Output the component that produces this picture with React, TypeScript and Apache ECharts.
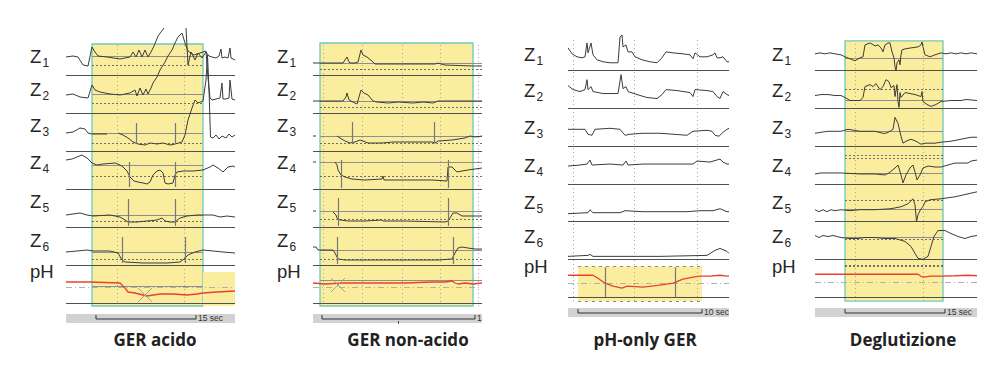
import React, { useEffect, useRef } from "react";
import * as echarts from "echarts";

type P = [number, number | null];

const CHANNELS = ["Z1", "Z2", "Z3", "Z4", "Z5", "Z6", "pH"];
const TITLES = ["GER acido", "GER non-acido", "pH-only GER", "Deglutizione"];
const SCALE_LABELS = ["15 sec", "1", "10 sec", "15 sec"];
const STEP = 38; // channel spacing (units)

// ---------- GER acido (samples vs impedance units above channel baseline) ----------
const acZ1: P[] = [[0,18],[7,19],[12,18],[17,10],[22,9],[26,28],[29,23],[32,19],[41,18],[54,16],[64,18],[67,23],[70,18],[73,25],[76,18],[79,25],[82,18],[85,23],[88,29],[92,39],[95,43],[98,47],[110,null],[120,47],[122,10],[125,23],[129,15],[132,22],[136,17],[140,23],[143,19],[146,18],[150,17],[153,19],[155,26],[156,17],[159,18],[162,17],[164,27],[165,17],[169,15]];
const acZ2: P[] = [[0,18],[7,19],[14,16],[22,15],[26,28],[29,23],[34,21],[44,19],[54,18],[64,20],[69,23],[71,17],[74,25],[77,18],[80,24],[82,19],[85,25],[87,30],[91,36],[94,43],[99,51],[102,57],[106,63],[109,70],[112,76],[116,80],[119,70],[122,62],[128,58],[134,60],[140,62],[142,35],[144,15],[146,13],[150,14],[154,15],[156,30],[157,14],[160,14],[163,15],[164,33],[166,14],[169,13]];
const acZ3: P[] = [[0,18],[7,19],[14,23],[19,22],[22,18],[26,17],[41,17],[46,null],[52,18],[57,16],[62,13],[67,9],[72,7],[79,6],[84,8],[91,7],[97,8],[104,6],[109,7],[116,9],[119,16],[122,31],[126,43],[129,51],[132,48],[137,50],[140,71],[141.5,96],[143,61],[144.5,14],[147,13],[150,16],[153,12],[156,15],[160,13],[163,17],[166,14],[169,16]];
const acZ4: P[] = [[0,29],[6,30],[11,32],[16,34],[21,31],[26,26],[31,24],[37,25],[49,26],[54,24],[57,22],[61,18],[64,12],[68,8],[72,7],[77,6],[81,5],[84,7],[87,14],[91,18],[94,19],[97,16],[99,6],[102,5],[107,6],[109,14],[111,17],[117,18],[127,18],[137,19],[144,22],[147,24],[152,21],[157,17],[162,22],[167,23],[169,22]];
const acZ5: P[] = [[0,12],[14,14],[21,12],[27,11],[44,12],[54,10],[59,7],[62,5],[71,5],[81,6],[91,7],[96,9],[99,6],[104,5],[109,5],[114,9],[121,11],[131,12],[147,12],[154,10],[161,11],[169,10]];
const acZ6: P[] = [[0,13],[11,14],[21,15],[27,14],[44,14],[52,12],[56,5],[59,3],[77,2],[101,2],[114,3],[118,6],[122,10],[129,13],[137,15],[147,14],[157,13],[169,12]];
const acPH: P[] = [[0,21],[24,21],[54,20],[56,18],[59,15],[62,11],[69,10],[81,7],[94,9],[107,9],[121,8],[131,9],[137,10],[151,11],[169,12]];
const acBox = [26, 137, -3, 259];
const acPhArea = [137, 169, -3, 31];
const acRefSolid = [19, 19, 18, 24, 12, 13, 17];
const acRefDashed = [10, 10, 8, 13, 6, 6, null];
const acRefSpan = [26, 137];
const acGridX = [51, 118];
const acBolus = [[2,70,28,7],[2,109,28,7],[3,63,27,2],[3,109,27,2],[4,62,28,1],[4,109,28,1],[5,56,28,2],[5,119,28,2]];
const acCross = [79, 8];
const acPh4 = 16;
const acScale = [30, 130];

// ---------- GER non-acido ----------
const naZ1: P[] = [[0,12],[10,12],[30,12],[32,15],[34,18],[36,13],[37,12],[42,12],[45,13],[48,25],[50,20],[54,18],[59,14],[62,11],[72,11],[100,11],[122,11],[125,12],[128,11],[132,10],[160,9],[169,9]];
const naZ2: P[] = [[0,12],[10,12],[30,12],[33,16],[34,20],[36,13],[40,11],[44,9],[46,16],[48,23],[51,20],[55,18],[60,12],[64,11],[75,10],[85,11],[100,10],[110,11],[120,10],[125,12],[132,12],[150,12],[169,12]];
const naZ3: P[] = [[0,15],[3,15],[10,null],[24,15],[27,13],[32,10],[37,8],[42,9],[47,11],[50,10],[55,8],[69,8],[80,9],[92,9],[110,9],[119,9],[122,8],[125,10],[139,11],[152,13],[157,15],[162,14],[169,15]];
const naZ4: P[] = [[0,27],[3,27],[10,null],[22,27],[24,24],[25,19],[28,14],[32,12],[39,10],[52,9],[69,10],[70,13],[71,9],[92,9],[119,9],[134,8],[135,22],[139,22],[144,17],[149,18],[155,19],[162,20],[169,21]];
const naZ5: P[] = [[0,16],[3,16],[10,null],[20,15],[23,12],[24,9],[27,7],[35,6],[52,6],[69,7],[70,6],[92,6],[132,5],[135,6],[137,9],[140,14],[144,14],[149,11],[159,11],[169,11]];
const naZ6: P[] = [[0,18],[3,18],[5,15],[20,15],[22,12],[24,8],[25,6],[32,5],[59,5],[92,5],[125,5],[139,6],[142,12],[145,17],[149,18],[155,17],[162,16],[169,16]];
const naPH: P[] = [[0,20],[12,19],[30,20],[59,20],[92,20],[119,21],[132,21],[139,22],[142,20],[145,19],[152,20],[160,19],[169,20]];
const naBox = [7, 160, -3, 260];
const naRefSolid = [12, 12, 15, 27, 16, 15, 23];
const naRefDashed = [6, 6, 8, 13, 8, 6, null];
const naRefSpan = [7, 169];
const naGridX = [10, 49, 89, 127, 165];
const naBolus = [[2,39,29,8],[2,121,29,8],[3,28,29,1],[3,135,29,1],[4,25,29,1],[4,135,29,1],[5,24,28,1],[5,140,28,1]];
const naCross = [25, 18];
const naPh4 = 16;
const naScale = [9, 162];

// ---------- pH-only GER ----------
const poZ1: P[] = [[0,23],[4,17],[9,14],[14,13],[17,14],[19,28],[20,18],[23,28],[25,16],[29,11],[35,9],[42,8],[50,8],[52,34],[54,36],[55,24],[58,26],[60,19],[64,19],[67,14],[74,11],[82,9],[89,8],[94,13],[98,19],[105,18],[115,17],[122,16],[125,12],[127,18],[132,14],[139,14],[145,16],[147,18],[149,13],[152,13],[155,14],[159,9],[161,9]];
const poZ2: P[] = [[0,23],[5,19],[12,17],[17,19],[19,29],[20,19],[23,22],[25,17],[35,15],[50,15],[53,34],[55,20],[58,22],[60,17],[69,14],[79,11],[89,10],[94,14],[98,19],[109,18],[122,16],[125,12],[127,19],[139,18],[145,17],[149,12],[152,10],[155,17],[159,14],[161,13]];
const poZ3: P[] = [[0,17],[17,17],[20,12],[24,11],[27,17],[42,18],[52,17],[57,11],[62,12],[75,13],[92,13],[119,11],[125,15],[139,16],[144,15],[147,11],[151,10],[155,14],[159,17],[161,18]];
const poZ4: P[] = [[0,18],[12,19],[19,20],[22,24],[24,19],[42,20],[55,19],[58,23],[60,19],[75,20],[92,20],[125,20],[129,23],[142,22],[152,25],[155,22],[159,20],[161,20]];
const poZ5: P[] = [[0,8],[20,9],[22,12],[25,9],[52,9],[57,11],[75,10],[119,10],[132,11],[145,11],[152,13],[159,10],[161,10]];
const poZ6: P[] = [[0,3],[20,4],[22,5],[25,3],[59,3],[92,3],[139,4],[147,9],[152,11],[159,8],[161,6]];
const poPH: P[] = [[0,22],[25,22],[30,19],[37,14],[45,11],[54,9],[59,11],[75,10],[92,12],[105,14],[115,18],[125,20],[132,21],[142,21],[152,22],[159,21],[161,21]];
const poPhArea = [10, 134, -4, 31];
const poGridX = [5, 66, 129];
const poBolus = [[6,37,30,0],[6,107,30,0]];
const poPh4 = 14;
const poScale = [10, 134];

// ---------- Deglutizione ----------
const dgZ1: P[] = [[0,17],[5,18],[10,17],[15,18],[20,17],[26,16],[30,14],[35,12],[40,10],[45,13],[48,14],[50,26],[55,28],[60,25],[63,26],[66,23],[68,19],[70,26],[73,28],[75,28],[77,19],[79,13],[80,4],[81,0],[82,8],[84,11],[85,6],[86,16],[87,21],[90,22],[96,23],[103,24],[106,26],[107,29],[108,24],[110,16],[115,14],[120,16],[126,18],[131,17],[136,18],[141,17],[146,18],[151,17],[156,18],[162,17]];
const dgZ2: P[] = [[0,13],[6,14],[13,14],[20,13],[26,13],[30,11],[35,8],[45,8],[48,11],[50,22],[55,24],[58,22],[61,25],[65,19],[68,22],[71,29],[74,27],[76,21],[79,23],[80,12],[82,24],[83,7],[84,1],[85,16],[86,11],[90,16],[100,14],[106,12],[107,17],[108,7],[112,4],[116,2],[121,4],[126,7],[136,8],[146,8],[151,9],[162,8]];
const dgZ3: P[] = [[0,13],[6,14],[13,15],[26,15],[33,17],[45,15],[60,15],[68,13],[71,13],[75,15],[78,17],[80,29],[83,23],[86,10],[88,3],[91,5],[96,7],[101,5],[106,2],[110,3],[120,3],[126,4],[136,5],[146,7],[156,9],[162,9]];
const dgZ4: P[] = [[0,10],[6,11],[13,11],[26,11],[45,10],[60,10],[70,9],[74,11],[80,16],[83,19],[86,9],[88,1],[91,9],[95,16],[98,19],[100,12],[102,4],[105,9],[108,16],[113,18],[120,17],[126,17],[133,19],[140,21],[146,21],[153,21],[156,23],[162,24]];
const dgZ5: P[] = [[0,12],[4,10],[8,12],[12,10],[16,12],[20,11],[26,12],[35,11],[45,12],[60,12],[76,13],[86,15],[93,18],[98,23],[100,17],[101.5,0],[103,7],[106,13],[108,15],[110,20],[115,22],[126,23],[140,25],[153,28],[162,30]];
const dgZ6: P[] = [[0,24],[4,22],[8,24],[13,23],[18,24],[26,22],[35,21],[43,21],[50,22],[60,22],[70,21],[80,21],[87,19],[90,18],[96,13],[100,6],[103,1],[108,0],[113,3],[116,13],[119,23],[123,29],[130,29],[136,26],[143,23],[150,21],[156,23],[162,24]];
const dgPH: P[] = [[0,23],[50,23],[103,23],[106,21],[108,20],[116,21],[126,21],[140,21.5],[153,22],[162,21.5]];
const dgBox = [30, 128, -4, 258];
const dgRefSolid = [13, 8, 15, 11, 12, 22, null];
const dgRefDashed = [null, 19, null, 29, 22, 20, 32];
const dgRefDashed2 = [null, null, null, 26, null, null, 31];
const dgRefSpan = [30, 128];
const dgGridX = [40, 108];
const dgPh4 = 15;
const dgScale = [30, 130];

// ---------- assembled panels ----------
const PANELS: any[] = [
  { traces: [acZ1, acZ2, acZ3, acZ4, acZ5, acZ6, acPH], span: 169, box: acBox, phArea: acPhArea, refSolid: acRefSolid, refDashed: acRefDashed, refDashed2: null, refSpan: acRefSpan, gridX: acGridX, bolus: acBolus, cross: acCross, ph4: acPh4, scale: acScale, areaDashed: false },
  { traces: [naZ1, naZ2, naZ3, naZ4, naZ5, naZ6, naPH], span: 169, box: naBox, phArea: null, refSolid: naRefSolid, refDashed: naRefDashed, refDashed2: null, refSpan: naRefSpan, gridX: naGridX, bolus: naBolus, cross: naCross, ph4: naPh4, scale: naScale, areaDashed: false },
  { traces: [poZ1, poZ2, poZ3, poZ4, poZ5, poZ6, poPH], span: 161, box: null, phArea: poPhArea, refSolid: null, refDashed: null, refDashed2: null, refSpan: null, gridX: poGridX, bolus: poBolus, cross: null, ph4: poPh4, scale: poScale, areaDashed: true },
  { traces: [dgZ1, dgZ2, dgZ3, dgZ4, dgZ5, dgZ6, dgPH], span: 162, box: dgBox, phArea: null, refSolid: dgRefSolid, refDashed: dgRefDashed, refDashed2: dgRefDashed2, refSpan: dgRefSpan, gridX: dgGridX, bolus: [], cross: null, ph4: dgPh4, scale: dgScale, areaDashed: false },
];

// ---------- layout / styles ----------
const LABEL_Y_A = [56, 89, 125, 162, 201, 240, 271];
const LABEL_Y_B = [54, 90, 127, 165, 202, 236, 266];
const LAYOUT = [
  { left: 66, top: 37, height: 276, labelX: 30, labelY: LABEL_Y_A, titleX: 155, barY: 314, lineY: 319 },
  { left: 313, top: 37, height: 276, labelX: 277, labelY: LABEL_Y_A, titleX: 408, barY: 314, lineY: 319 },
  { left: 568, top: 33, height: 274, labelX: 524, labelY: LABEL_Y_B, titleX: 645, barY: 308, lineY: 313 },
  { left: 815, top: 33, height: 274, labelX: 772, labelY: LABEL_Y_B, titleX: 903, barY: 308, lineY: 313 },
];
const YELLOW = "#faee9e";
const TEAL = "#6cc9bf";
const TRACE = "#3c3c3c";
const RED = "#e8412c";
const LABEL_FONT = "Liberation Sans";

function buildOption() {
  const grid: any[] = [];
  const xAxis: any[] = [];
  const yAxis: any[] = [];
  const series: any[] = [];
  const graphic: any[] = [];

  PANELS.forEach((p, pi) => {
    const L = LAYOUT[pi];
    grid.push({ left: L.left, top: L.top, width: p.span, height: L.height, containLabel: false });
    xAxis.push({ type: "value", gridIndex: pi, min: 0, max: p.span, show: false });
    yAxis.push({ type: "value", gridIndex: pi, min: -10, max: 266, show: false });
    const ax = { xAxisIndex: pi, yAxisIndex: pi };
    const off = (ch: number) => (6 - ch) * STEP;
    const seg = (x0: number, y0: number, x1: number, y1: number, style: any) => [
      { coord: [x0, y0], lineStyle: style },
      { coord: [x1, y1] },
    ];

    // yellow areas
    const areas: any[] = [];
    if (p.box) areas.push([{ coord: [p.box[0], p.box[2]], itemStyle: { color: YELLOW, borderColor: TEAL, borderWidth: 1.3 } }, { coord: [p.box[1], p.box[3]] }]);
    if (p.phArea) areas.push([{ coord: [p.phArea[0], p.phArea[2]], itemStyle: { color: YELLOW, borderWidth: 0 } }, { coord: [p.phArea[1], p.phArea[3]] }]);
    series.push({ type: "line", ...ax, data: [], silent: true, markArea: { silent: true, data: areas } });

    // grid / reference lines
    const lines: any[] = [];
    const vTop = p.box ? p.box[3] : 262;
    const vBot = p.box ? p.box[2] : -4;
    p.gridX.forEach((x: number) => lines.push(seg(x, vBot, x, vTop, { color: "#a5a5a5", width: 1, type: [1, 3] })));
    for (let ch = 0; ch < 7; ch++) {
      if (p.refSolid && p.refSolid[ch] != null)
        lines.push(seg(p.refSpan[0], p.refSolid[ch] + off(ch), p.refSpan[1], p.refSolid[ch] + off(ch), { color: "#8e8e8e", width: 1, type: "solid" }));
      if (p.refDashed && p.refDashed[ch] != null)
        lines.push(seg(p.refSpan[0], p.refDashed[ch] + off(ch), p.refSpan[1], p.refDashed[ch] + off(ch), { color: "#6e6e6e", width: 1, type: [2, 2] }));
      if (p.refDashed2 && p.refDashed2[ch] != null)
        lines.push(seg(p.refSpan[0], p.refDashed2[ch] + off(ch), p.refSpan[1], p.refDashed2[ch] + off(ch), { color: "#6e6e6e", width: 1, type: [2, 2] }));
    }
    lines.push(seg(0, p.ph4, p.span, p.ph4, { color: "#b0b0b0", width: 1, type: [6, 3, 1, 3] }));
    if (p.areaDashed && p.phArea) {
      lines.push(seg(p.phArea[0], p.phArea[3], p.phArea[1], p.phArea[3], { color: "#8a8a8a", width: 1, type: [3, 4] }));
      lines.push(seg(p.phArea[0], p.phArea[2], p.phArea[1], p.phArea[2], { color: "#8a8a8a", width: 1, type: [3, 4] }));
    }
    for (let ch = 0; ch < 7; ch++) lines.push(seg(0, off(ch), p.span, off(ch), { color: "#505050", width: 1.2, type: "solid" }));
    series.push({ type: "line", ...ax, data: [], silent: true, markLine: { silent: true, symbol: ["none", "none"], label: { show: false }, emphasis: { disabled: true }, data: lines } });

    // traces
    p.traces.forEach((pts: P[], ch: number) => {
      series.push({
        type: "line", ...ax, z: 6, silent: true, clip: false, showSymbol: false, symbol: "none",
        connectNulls: false,
        lineStyle: { color: ch === 6 ? RED : TRACE, width: ch === 6 ? 1.3 : 1 },
        data: pts.map(([x, v]) => [x, v == null ? "-" : v + off(ch)]),
      });
    });

    // bolus markers and cross
    const marks: any[] = [];
    p.bolus.forEach((b: number[]) => marks.push(seg(b[1], b[2] + off(b[0]), b[1], b[3] + off(b[0]), { color: "#777", width: 1.2, type: "solid" })));
    if (p.cross) {
      const [cx, cv] = p.cross;
      marks.push(seg(cx - 7, cv + 7, cx + 7, cv - 7, { color: "#a0a0a0", width: 1, type: "solid" }));
      marks.push(seg(cx - 7, cv - 7, cx + 7, cv + 7, { color: "#a0a0a0", width: 1, type: "solid" }));
    }
    series.push({ type: "line", ...ax, z: 7, data: [], silent: true, markLine: { z: 7, silent: true, symbol: ["none", "none"], label: { show: false }, emphasis: { disabled: true }, data: marks } });

    // channel labels
    CHANNELS.forEach((name, ch) => {
      const y = L.labelY[ch];
      if (name === "pH") {
        graphic.push({ type: "text", x: L.labelX, y, style: { text: "pH", fontSize: 18.5, fontFamily: LABEL_FONT, fill: "#262626", verticalAlign: "middle" } });
      } else {
        graphic.push({ type: "text", x: L.labelX, y, style: { text: "Z", fontSize: 18.5, fontFamily: LABEL_FONT, fill: "#262626", verticalAlign: "middle" } });
        graphic.push({ type: "text", x: L.labelX + 12.5, y: y + 6.5, style: { text: name.slice(1), fontSize: 12, fontFamily: LABEL_FONT, fill: "#262626", verticalAlign: "middle" } });
      }
    });

    // scale bar
    graphic.push({ type: "rect", shape: { x: L.left, y: L.barY, width: p.span, height: 9 }, style: { fill: "#d2d2d2" } });
    const s0 = L.left + p.scale[0];
    const s1 = L.left + p.scale[1];
    graphic.push({ type: "polyline", shape: { points: [[s0, L.lineY - 4], [s0, L.lineY], [s1, L.lineY], [s1, L.lineY - 4]] }, style: { stroke: "#333", lineWidth: 1, fill: null } });
    if (pi === 1) {
      const mid = L.left + (p.scale[0] + p.scale[1]) / 2;
      graphic.push({ type: "line", shape: { x1: mid, y1: L.lineY + 2, x2: mid, y2: L.lineY + 5 }, style: { stroke: "#555", lineWidth: 1 } });
    }
    graphic.push({ type: "text", x: s1 + 2, y: L.lineY - 1.5, style: { text: SCALE_LABELS[pi], fontSize: 8.5, fontFamily: LABEL_FONT, fill: "#333", verticalAlign: "middle" } });

    // title
    graphic.push({ type: "text", x: L.titleX, y: 339, style: { text: TITLES[pi], fontSize: 17, fontWeight: "bold", fontFamily: "Open Sans", fill: "#222", align: "center", verticalAlign: "middle" } });
  });

  return { animation: false, backgroundColor: "#fff", grid, xAxis, yAxis, series, graphic };
}

export default function App() {
  const ref = useRef<HTMLDivElement>(null);
  useEffect(() => {
    if (!ref.current) return;
    const chart = echarts.init(ref.current, null, { renderer: "svg" });
    chart.setOption(buildOption() as any);
    return () => chart.dispose();
  }, []);
  return <div ref={ref} style={{ position: "absolute", left: 0, top: 0, width: 1000, height: 388 }} />;
}
